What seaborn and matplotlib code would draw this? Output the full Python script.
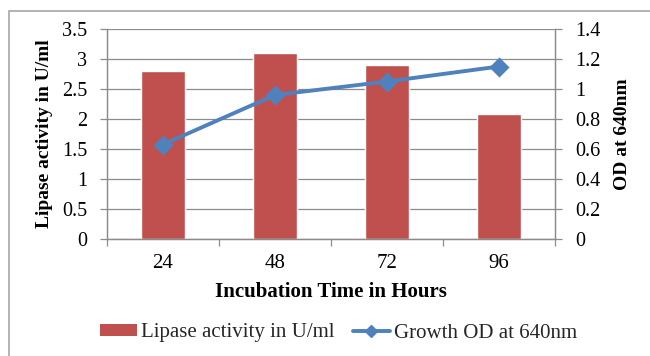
import numpy as np
import pandas as pd
import matplotlib
matplotlib.use("Agg")
import matplotlib.pyplot as plt
import seaborn as sns
from matplotlib.patches import Patch, Rectangle
from matplotlib.lines import Line2D

hours = ["24", "48", "72", "96"]
lipase = [2.8, 3.1, 2.9, 2.08]
growth_od = [0.63, 0.96, 1.05, 1.15]
left_ticks = [0, 0.5, 1, 1.5, 2, 2.5, 3, 3.5]
right_ticks = [0, 0.2, 0.4, 0.6, 0.8, 1, 1.2, 1.4]

sns.set_theme(style="white")
plt.rcParams["font.family"] = ["Liberation Serif", "DejaVu Serif"]

bar_color = "#C0504D"
line_color = "#4F81BD"
grid_color = "#8c8c8c"

df = pd.DataFrame({"hours": hours, "lipase": lipase, "od": growth_od})

fig = plt.figure(figsize=(6.5, 3.56), dpi=100)
ax = fig.add_axes([107/650, 1-239/356, (555-107)/650, (239-29)/356])
ax.set_axisbelow(True)

sns.barplot(data=df, x="hours", y="lipase", ax=ax, color=bar_color,
            width=0.4, saturation=1, order=hours)
ax.set_ylim(0, 3.5)
ax.set_yticks(left_ticks)
ax.set_yticklabels([f"{t:g}" for t in left_ticks])
ax.yaxis.grid(True, color=grid_color, linewidth=0.9)
ax.xaxis.grid(False)

ax2 = ax.twinx()
sns.pointplot(data=df, x="hours", y="od", ax=ax2, color=line_color,
              markers="D", markersize=8.5, linewidth=2.8, order=hours)
ax2.set_ylim(0, 1.4)
ax2.set_yticks(right_ticks)
ax2.set_yticklabels([f"{t:g}" for t in right_ticks])
ax2.grid(False)
ax.set_xlim(-0.5, 3.5)
ax2.set_xlim(-0.5, 3.5)

fs_h = 15
fs_v = 14
for a in (ax, ax2):
    a.spines["top"].set_visible(False)
    for side in ("left", "right", "bottom"):
        a.spines[side].set_color(grid_color)
        a.spines[side].set_linewidth(0.9)
ax.tick_params(axis="y", which="major", left=True, length=5, width=0.9,
               color=grid_color, labelsize=14.5, pad=9.4, labelcolor="black")
ax2.tick_params(axis="y", which="major", right=True, length=5, width=0.9,
                color=grid_color, labelsize=14.5, pad=9.4, labelcolor="black")
ax.set_xticks(np.arange(len(hours)))
ax.set_xticklabels(hours)
ax.set_xticks(np.arange(-0.5, len(hours), 1), minor=True)
ax.tick_params(axis="x", which="major", length=0, labelsize=fs_h, pad=11,
               labelcolor="black")
ax.tick_params(axis="x", which="minor", bottom=True, length=5, width=0.9,
               color=grid_color)

ax.set_xlabel("Incubation Time in Hours", fontsize=fs_h, fontweight="bold",
              labelpad=6, color="black")
ax.set_ylabel("Lipase activity in U/ml", fontsize=fs_v, fontweight="bold",
              labelpad=6, color="black")
ax2.set_ylabel("OD at 640nm", fontsize=fs_v, fontweight="bold", labelpad=10,
               color="black")

handles = [Patch(facecolor=bar_color, edgecolor="none"),
           Line2D([], [], color=line_color, linewidth=2.8, marker="D",
                  markersize=6)]
fig.legend(handles, ["Lipase activity in U/ml", "Growth OD at 640nm"],
           loc="center", bbox_to_anchor=(338.5/650, 1-333/356), ncol=2,
           frameon=False, fontsize=fs_h, handlelength=1.75, handletextpad=0.2,
           columnspacing=0.9, handleheight=0.5)

fig.patches.append(Rectangle((9/650, -0.1), 1.2, 1.1-11/356,
                             transform=fig.transFigure, fill=False,
                             edgecolor="#a6a6a6", linewidth=1.2))

fig.savefig("out.png", dpi=100)
